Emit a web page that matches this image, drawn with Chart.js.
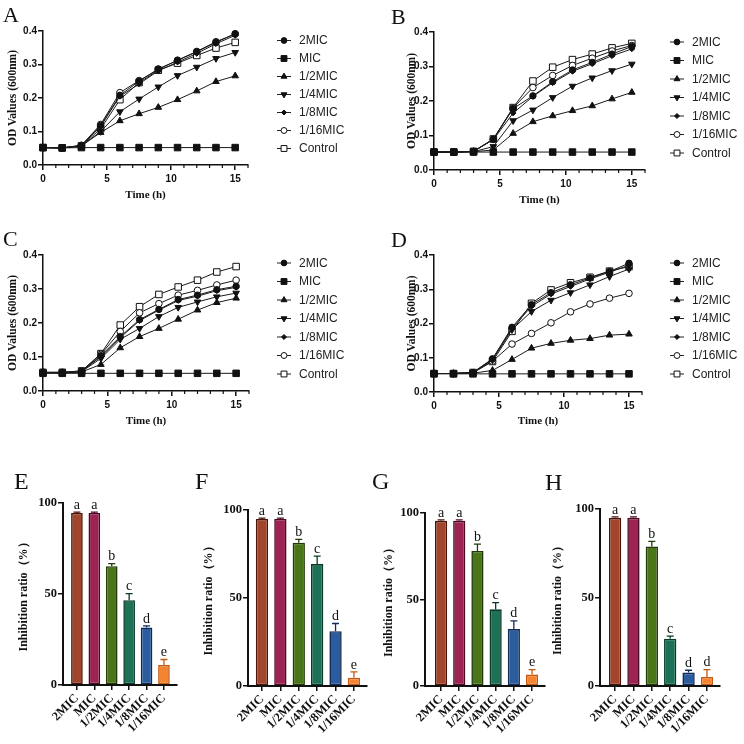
<!DOCTYPE html>
<html>
<head>
<meta charset="utf-8">
<script src="https://cdn.jsdelivr.net/npm/chart.js@4.4.0/dist/chart.umd.min.js"></script>
<style>
body { margin: 0; background: #fff; }
#wrap { position: relative; width: 744px; height: 744px; overflow: hidden; background: #fff; }
canvas { position: absolute; }
.lab { position: absolute; font-family: 'Liberation Serif', serif; line-height: 1; color: #111; }
</style>
</head>
<body>
<div id="wrap">
  <canvas id="cA" width="372" height="210" style="left:0;top:0"></canvas>
  <canvas id="cB" width="372" height="210" style="left:372px;top:0"></canvas>
  <canvas id="cC" width="372" height="230" style="left:0;top:200px"></canvas>
  <canvas id="cD" width="372" height="230" style="left:372px;top:200px"></canvas>
  <canvas id="cE" width="200" height="324" style="left:0;top:420px"></canvas>
  <canvas id="cF" width="200" height="324" style="left:185px;top:420px"></canvas>
  <canvas id="cG" width="200" height="324" style="left:370px;top:420px"></canvas>
  <canvas id="cH" width="199" height="324" style="left:545px;top:420px"></canvas>
  <div class="lab" style="left:3px;top:4px;font-size:22px">A</div>
  <div class="lab" style="left:391px;top:6px;font-size:22px">B</div>
  <div class="lab" style="left:3px;top:228px;font-size:22px">C</div>
  <div class="lab" style="left:391px;top:229px;font-size:22px">D</div>
  <div class="lab" style="left:14px;top:469px;font-size:24px">E</div>
  <div class="lab" style="left:195px;top:469px;font-size:24px">F</div>
  <div class="lab" style="left:372px;top:469px;font-size:24px">G</div>
  <div class="lab" style="left:545px;top:470px;font-size:24px">H</div>
</div>
<script>
// sampling times (h)
const times = [0, 1.5, 3, 4.5, 6, 7.5, 9, 10.5, 12, 13.5, 15];
const groups = ['2MIC', 'MIC', '1/2MIC', '1/4MIC', '1/8MIC', '1/16MIC', 'Control'];
const barGroups = ['2MIC', 'MIC', '1/2MIC', '1/4MIC', '1/8MIC', '1/16MIC'];
const odTicks = [0, 0.1, 0.2, 0.3, 0.4];

// growth curves, one row per group (same order as groups)
const odA = [
    [0.052, 0.051, 0.058, 0.118, 0.208, 0.250, 0.287, 0.312, 0.338, 0.366, 0.392],
    [0.052, 0.051, 0.052, 0.052, 0.052, 0.052, 0.052, 0.052, 0.052, 0.052, 0.052],
    [0.052, 0.051, 0.057, 0.097, 0.132, 0.153, 0.172, 0.195, 0.221, 0.249, 0.266],
    [0.052, 0.051, 0.057, 0.100, 0.159, 0.197, 0.233, 0.267, 0.292, 0.318, 0.336],
    [0.052, 0.051, 0.058, 0.115, 0.205, 0.242, 0.281, 0.307, 0.333, 0.362, 0.387],
    [0.052, 0.051, 0.059, 0.121, 0.216, 0.252, 0.285, 0.313, 0.339, 0.368, 0.391],
    [0.052, 0.051, 0.057, 0.108, 0.195, 0.246, 0.283, 0.304, 0.327, 0.349, 0.366]
];
const odB = [
    [0.052, 0.052, 0.054, 0.089, 0.178, 0.215, 0.256, 0.290, 0.312, 0.336, 0.358],
    [0.052, 0.052, 0.052, 0.052, 0.052, 0.052, 0.052, 0.052, 0.052, 0.052, 0.052],
    [0.052, 0.052, 0.053, 0.058, 0.106, 0.140, 0.157, 0.172, 0.186, 0.206, 0.225],
    [0.052, 0.052, 0.053, 0.068, 0.143, 0.174, 0.210, 0.243, 0.267, 0.288, 0.307],
    [0.052, 0.052, 0.054, 0.088, 0.165, 0.213, 0.253, 0.286, 0.308, 0.331, 0.351],
    [0.052, 0.052, 0.054, 0.089, 0.180, 0.239, 0.274, 0.303, 0.324, 0.345, 0.361],
    [0.052, 0.052, 0.054, 0.090, 0.181, 0.258, 0.298, 0.320, 0.336, 0.354, 0.367]
];
const odC = [
    [0.054, 0.054, 0.058, 0.104, 0.160, 0.210, 0.240, 0.269, 0.282, 0.298, 0.308],
    [0.052, 0.052, 0.052, 0.052, 0.052, 0.052, 0.052, 0.052, 0.052, 0.052, 0.052],
    [0.054, 0.053, 0.056, 0.078, 0.127, 0.160, 0.184, 0.211, 0.238, 0.260, 0.273],
    [0.054, 0.053, 0.057, 0.096, 0.152, 0.184, 0.219, 0.246, 0.262, 0.277, 0.288],
    [0.054, 0.054, 0.058, 0.101, 0.157, 0.207, 0.238, 0.266, 0.279, 0.295, 0.305],
    [0.055, 0.055, 0.059, 0.108, 0.175, 0.230, 0.257, 0.282, 0.296, 0.312, 0.326],
    [0.055, 0.055, 0.059, 0.110, 0.194, 0.248, 0.284, 0.306, 0.326, 0.350, 0.366]
];
const odD = [
    [0.054, 0.054, 0.057, 0.097, 0.189, 0.255, 0.290, 0.313, 0.333, 0.352, 0.376],
    [0.053, 0.053, 0.053, 0.053, 0.053, 0.053, 0.053, 0.053, 0.053, 0.053, 0.053],
    [0.054, 0.054, 0.055, 0.063, 0.095, 0.128, 0.142, 0.151, 0.156, 0.166, 0.169],
    [0.054, 0.054, 0.056, 0.094, 0.182, 0.235, 0.268, 0.290, 0.313, 0.337, 0.359],
    [0.054, 0.054, 0.057, 0.096, 0.186, 0.250, 0.286, 0.308, 0.330, 0.350, 0.370],
    [0.054, 0.054, 0.056, 0.090, 0.140, 0.171, 0.202, 0.234, 0.257, 0.274, 0.288],
    [0.054, 0.054, 0.057, 0.089, 0.177, 0.259, 0.298, 0.319, 0.335, 0.353, 0.366]
];

// inhibition ratio (%), error (sd) and significance letters
const inhE = [94.5, 94.5, 65.3, 46.6, 31.6, 11.0];
const errE = [0.5, 0.5, 1.4, 3.6, 0.9, 3.0];
const sigE = ['a', 'a', 'b', 'c', 'd', 'e'];
const inhF = [94.9, 94.9, 81.4, 69.3, 31.1, 4.7];
const errF = [0.5, 0.5, 1.9, 4.5, 4.4, 3.3];
const sigF = ['a', 'a', 'b', 'c', 'd', 'e'];
const inhG = [95.5, 95.5, 78.1, 44.3, 32.9, 6.6];
const errG = [0.5, 0.5, 3.9, 3.9, 4.8, 2.9];
const sigG = ['a', 'a', 'b', 'c', 'd', 'e'];
const inhH = [95.0, 95.0, 78.8, 26.7, 7.6, 5.1];
const errH = [0.5, 0.5, 2.9, 1.5, 1.3, 4.2];
const sigH = ['a', 'a', 'b', 'c', 'd', 'd'];

// marker look for each group
const markers = [
    { style: 'circle', r: 3.2, fill: '#111' },
    { style: 'rect', r: 4.6, fill: '#111' },
    { style: 'triangle', r: 3.8, fill: '#111' },
    { style: 'triangle', r: 3.8, fill: '#111', rot: 180 },
    { style: 'rectRot', r: 2.8, fill: '#111' },
    { style: 'circle', r: 3.3, fill: '#fff' },
    { style: 'rect', r: 4.6, fill: '#fff' }
];
const barFill = ['#A2452B', '#9C2352', '#4A7519', '#1D7157', '#2B5C9E', '#F58430'];
const barEdge = ['#4A150C', '#4E0A25', '#213A07', '#083A27', '#122B55', '#C45A12'];

const ink = '#111';
const sansBold = { family: 'Liberation Sans', weight: 'bold', size: 10 };
const serifBold = { family: 'Liberation Serif', weight: 'bold', size: 11 };
const serifTitle = { family: 'Liberation Serif', weight: 'bold', size: 11.5 };

function drawMarker(ctx, m, x, y, scale) {
    ctx.save();
    ctx.fillStyle = m.fill;
    ctx.strokeStyle = ink;
    ctx.lineWidth = 1;
    Chart.helpers.drawPoint(ctx, { pointStyle: m.style, radius: m.r * scale, rotation: m.rot || 0, borderWidth: 1 }, x, y);
    ctx.restore();
}

// small ticks every hour + legend on the right
function linePlugin(g) {
    return {
        id: 'lineExtras',
        afterDraw(chart) {
            const ctx = chart.ctx;
            const xs = chart.scales.x;
            const y0 = chart.chartArea.bottom;
            ctx.save();
            ctx.strokeStyle = ink;
            ctx.lineWidth = 1.2;
            for (let h = 1; h <= 16; h++) {
                if (h % 5 === 0) continue;
                const px = xs.getPixelForValue(h);
                ctx.beginPath();
                ctx.moveTo(px, y0);
                ctx.lineTo(px, y0 + 3);
                ctx.stroke();
            }
            // legend
            ctx.font = '12px "Liberation Sans"';
            ctx.textBaseline = 'middle';
            groups.forEach((name, i) => {
                const y = g.legY + i * g.legStep;
                ctx.strokeStyle = '#222';
                ctx.lineWidth = 1;
                ctx.beginPath();
                ctx.moveTo(g.legX - 7, y);
                ctx.lineTo(g.legX + 7, y);
                ctx.stroke();
                drawMarker(ctx, markers[i], g.legX, y, 0.9);
                ctx.fillStyle = '#222';
                ctx.fillText(name, g.legX + 15, y + 0.5);
            });
            ctx.restore();
        }
    };
}

function lineChart(id, rows, g) {
    const datasets = rows.map((vals, i) => ({
        label: groups[i],
        data: times.map((t, k) => ({ x: t, y: vals[k] })),
        borderColor: '#1a1a1a',
        borderWidth: 1,
        tension: 0,
        pointStyle: markers[i].style,
        pointRadius: markers[i].r,
        pointRotation: markers[i].rot || 0,
        pointBackgroundColor: markers[i].fill,
        pointBorderColor: ink,
        pointBorderWidth: 1,
        clip: false
    }));
    return new Chart(document.getElementById(id), {
        type: 'line',
        data: { datasets: datasets },
        options: {
            responsive: false,
            animation: false,
            layout: { padding: { left: 0, top: g.T, right: g.w - g.R, bottom: 0 } },
            plugins: { legend: { display: false }, tooltip: { enabled: false } },
            scales: {
                x: {
                    type: 'linear', min: 0, max: 16,
                    afterFit: (s) => { s.height = g.h - g.B; },
                    border: { color: ink, width: 1.5 },
                    grid: { drawOnChartArea: false, tickLength: 5, color: ink, lineWidth: 1.5 },
                    ticks: { stepSize: 5, includeBounds: false, maxRotation: 0, padding: 3, color: ink, font: sansBold },
                    title: { display: true, text: 'Time (h)', color: ink, font: serifBold, padding: { top: 0, bottom: g.xtp } }
                },
                y: {
                    min: 0, max: 0.4,
                    afterFit: (s) => { s.width = g.L; },
                    afterBuildTicks: (s) => { s.ticks = odTicks.map((v) => ({ value: v })); },
                    border: { color: ink, width: 1.5 },
                    grid: { drawOnChartArea: false, tickLength: 5, color: ink, lineWidth: 1.5 },
                    ticks: { padding: 1, color: ink, font: sansBold, callback: (v) => Number(v).toFixed(1) },
                    title: { display: true, text: 'OD Values (600nm)', color: ink, font: serifTitle, padding: { top: g.ytp, bottom: 0 } }
                }
            }
        },
        plugins: [linePlugin(g)]
    });
}

// error bars and letters on top of the bars
function barPlugin(vals, errs, sig) {
    return {
        id: 'barExtras',
        afterDatasetsDraw(chart) {
            const ctx = chart.ctx;
            const ys = chart.scales.y;
            const meta = chart.getDatasetMeta(0);
            ctx.save();
            meta.data.forEach((bar, i) => {
                const top = ys.getPixelForValue(vals[i] + errs[i]);
                ctx.strokeStyle = barEdge[i];
                ctx.lineWidth = 1.3;
                ctx.beginPath();
                ctx.moveTo(bar.x, bar.y);
                ctx.lineTo(bar.x, top);
                ctx.moveTo(bar.x - 3.5, top);
                ctx.lineTo(bar.x + 3.5, top);
                ctx.stroke();
                ctx.fillStyle = '#111';
                ctx.font = '14px "Liberation Serif"';
                ctx.textAlign = 'center';
                ctx.textBaseline = 'bottom';
                ctx.fillText(sig[i], bar.x, top);
            });
            ctx.restore();
        }
    };
}

function barChart(id, vals, errs, sig, g) {
    return new Chart(document.getElementById(id), {
        type: 'bar',
        data: {
            datasets: [{
                data: vals.map((v, i) => ({ x: i, y: v })),
                backgroundColor: barFill,
                borderColor: barEdge,
                borderWidth: 1.6,
                borderSkipped: false,
                barPercentage: 0.67,
                categoryPercentage: 1
            }]
        },
        options: {
            responsive: false,
            animation: false,
            layout: { padding: { left: 0, top: g.T, right: g.w - g.R, bottom: 0 } },
            plugins: { legend: { display: false }, tooltip: { enabled: false } },
            scales: {
                x: {
                    type: 'linear', min: g.xmin, max: g.xmax, offset: false,
                    afterFit: (s) => { s.height = g.h - g.B; },
                    afterBuildTicks: (s) => { s.ticks = barGroups.map((n, i) => ({ value: i })); },
                    border: { color: ink, width: 2 },
                    grid: { offset: false, drawOnChartArea: false, tickLength: 5, color: ink, lineWidth: 1.5 },
                    ticks: {
                        autoSkip: false, maxRotation: 45, minRotation: 45, padding: 1, color: ink,
                        font: { family: 'Liberation Serif', weight: 'bold', size: 12.5 },
                        callback: (v) => barGroups[v] ?? ''
                    }
                },
                y: {
                    min: 0, max: 100,
                    afterFit: (s) => { s.width = g.L; },
                    border: { color: ink, width: 2 },
                    grid: { drawOnChartArea: false, tickLength: 5, color: ink, lineWidth: 1.5 },
                    ticks: { stepSize: 50, padding: 1, color: ink, font: { family: 'Liberation Serif', weight: 'bold', size: 12.5 } },
                    title: { display: true, text: 'Inhibition ratio（%）', color: ink, font: { family: 'Liberation Serif', weight: 'bold', size: 12 }, padding: { top: g.ytp, bottom: 0 } }
                }
            }
        },
        plugins: [barPlugin(vals, errs, sig)]
    });
}

lineChart('cA', odA, { w: 372, h: 210, L: 43, T: 31, R: 248, B: 165, xtp: 8, ytp: 6, legX: 284, legY: 40.5, legStep: 18 });
lineChart('cB', odB, { w: 372, h: 210, L: 62, T: 32, R: 273, B: 170, xtp: 3, ytp: 33, legX: 305, legY: 42, legStep: 18.5 });
lineChart('cC', odC, { w: 372, h: 230, L: 43, T: 55, R: 249, B: 191, xtp: 2, ytp: 6, legX: 284, legY: 63, legStep: 18.5 });
lineChart('cD', odD, { w: 372, h: 230, L: 62, T: 55, R: 270, B: 192, xtp: 2, ytp: 33, legX: 305, legY: 63, legStep: 18.5 });

barChart('cE', inhE, errE, sigE, { w: 200, h: 324, L: 63, T: 83, R: 177, B: 265, xmin: -0.8, xmax: 5.75, ytp: 17 });
barChart('cF', inhF, errF, sigF, { w: 200, h: 324, L: 63, T: 90, R: 182, B: 266, xmin: -0.76, xmax: 5.71, ytp: 17 });
barChart('cG', inhG, errG, sigG, { w: 200, h: 324, L: 55, T: 93, R: 175, B: 266, xmin: -0.88, xmax: 5.71, ytp: 12 });
barChart('cH', inhH, errH, sigH, { w: 199, h: 324, L: 55, T: 89, R: 175, B: 266, xmin: -0.82, xmax: 5.71, ytp: 6 });
</script>
</body>
</html>
